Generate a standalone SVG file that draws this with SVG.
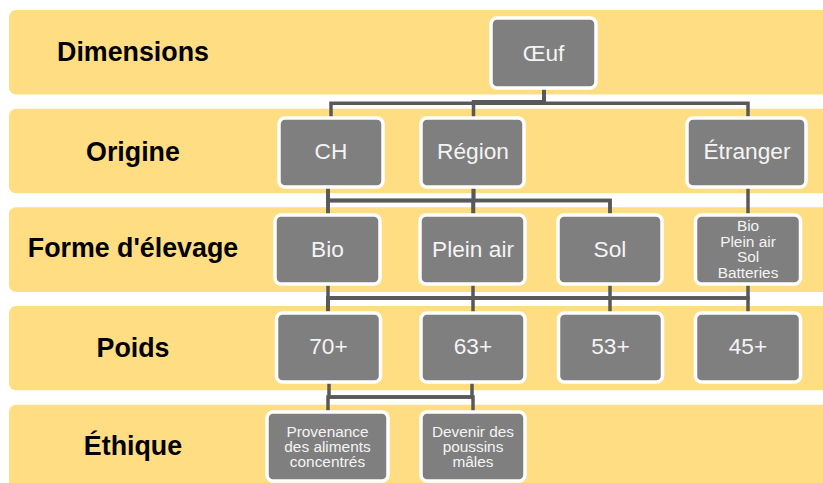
<svg xmlns="http://www.w3.org/2000/svg" width="823" height="483" viewBox="0 0 823 483">
<style>
.band{fill:#FFDD82}
.lbl{font-family:"Liberation Sans",Arial,sans-serif;font-weight:bold;font-size:26.8px;fill:#000;text-anchor:middle}
.box{fill:#7F7F7F;stroke:#FFFFFF;stroke-width:3.5}
.t{font-family:"Liberation Sans",Arial,sans-serif;font-size:22.7px;fill:#F4F4F4;text-anchor:middle}
.s{font-family:"Liberation Sans",Arial,sans-serif;font-size:15.4px;fill:#F4F4F4;text-anchor:middle}
.c path{fill:none;stroke:#595959;stroke-width:3.5}
</style>
<rect width="823" height="483" fill="#FFFFFF"/>
<g id="bands">
<rect class="band" x="9" y="10" width="830" height="84.5" rx="7"/>
<rect class="band" x="9" y="108.7" width="830" height="84.5" rx="7"/>
<rect class="band" x="9" y="207.3" width="830" height="84.7" rx="7"/>
<rect class="band" x="9" y="306" width="830" height="84.3" rx="7"/>
<rect class="band" x="9" y="404.7" width="830" height="100" rx="7"/>
<text class="lbl" x="133" y="61">Dimensions</text>
<text class="lbl" x="133" y="161">Origine</text>
<text class="lbl" x="133" y="257">Forme d'élevage</text>
<text class="lbl" x="133" y="357">Poids</text>
<text class="lbl" x="133" y="455">Éthique</text>
</g>
<g id="connectors" class="c">
<path d="M544 88 V103.3 H331 V118"/>
<path d="M544 88 V101.7 H473.5 V118"/>
<path d="M544 88 V103.3 H748 V118"/>
<path d="M328 187 V215"/>
<path d="M328 187 V200.5 H473 V215"/>
<path d="M328 187 V200.5 H610 V215"/>
<path d="M473.5 187 V200.5 H328 V215"/>
<path d="M473.5 187 V215"/>
<path d="M473.5 187 V200.5 H610 V215"/>
<path d="M748 187 V215"/>
<path d="M328 284 V298 H748 V313"/>
<path d="M473 284 V298 H328 V313"/>
<path d="M610 284 V298 H328 V313"/>
<path d="M748 284 V298 H328 V313"/>
<path d="M328 298 V313 M473 298 V313 M610 298 V313"/>
<path d="M329 382 V397 H473 V412"/>
<path d="M472 382 V397 H328 V412"/>
</g>
<g id="n-oeuf"><rect class="box" x="491" y="18" width="105" height="70" rx="6"/><text class="t" x="543.5" y="61">Œuf</text></g>
<g id="n-ch"><rect class="box" x="279" y="118" width="104" height="69" rx="6"/><text class="t" x="331" y="159">CH</text></g>
<g id="n-region"><rect class="box" x="421" y="118" width="103" height="69" rx="6"/><text class="t" x="473" y="159">Région</text></g>
<g id="n-etranger"><rect class="box" x="687" y="118" width="119" height="69" rx="6"/><text class="t" x="747" y="159">Étranger</text></g>
<g id="n-bio"><rect class="box" x="275" y="215" width="105" height="69" rx="6"/><text class="t" x="327.5" y="257">Bio</text></g>
<g id="n-pleinair"><rect class="box" x="420" y="215" width="105" height="69" rx="6"/><text class="t" x="473" y="257">Plein air</text></g>
<g id="n-sol"><rect class="box" x="558" y="215" width="104" height="69" rx="6"/><text class="t" x="610" y="257">Sol</text></g>
<g id="n-liste"><rect class="box" x="695.5" y="215" width="105" height="69" rx="6"/><text class="s" x="748"><tspan x="748" y="231">Bio</tspan><tspan x="748" y="246.5">Plein air</tspan><tspan x="748" y="262">Sol</tspan><tspan x="748" y="277.5">Batteries</tspan></text></g>
<g id="n-70"><rect class="box" x="276.5" y="313" width="104" height="69" rx="6"/><text class="t" x="328.5" y="354">70+</text></g>
<g id="n-63"><rect class="box" x="421" y="313" width="104" height="69" rx="6"/><text class="t" x="473" y="354">63+</text></g>
<g id="n-53"><rect class="box" x="558.5" y="313" width="104" height="69" rx="6"/><text class="t" x="610.5" y="354">53+</text></g>
<g id="n-45"><rect class="box" x="695.5" y="313" width="105" height="69" rx="6"/><text class="t" x="748" y="354">45+</text></g>
<g id="n-provenance"><rect class="box" x="267" y="412" width="121" height="69" rx="6"/><text class="s" x="327.5"><tspan x="327.5" y="436.7">Provenance</tspan><tspan x="327.5" y="451.7">des aliments</tspan><tspan x="327.5" y="466.7">concentrés</tspan></text></g>
<g id="n-devenir"><rect class="box" x="421" y="412" width="104" height="69" rx="6"/><text class="s" x="473"><tspan x="473" y="436.7">Devenir des</tspan><tspan x="473" y="451.7">poussins</tspan><tspan x="473" y="466.7">mâles</tspan></text></g>
</svg>
